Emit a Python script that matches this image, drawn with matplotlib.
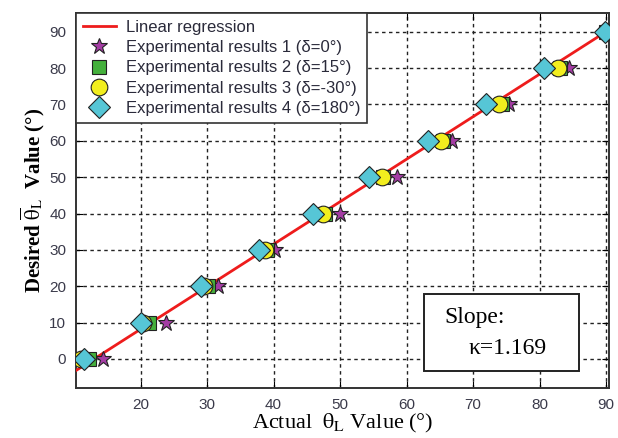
import numpy as np
import matplotlib.pyplot as plt
from matplotlib.patches import Rectangle

plt.rcParams['mathtext.fontset'] = 'stix'
plt.rcParams['font.family'] = ['Liberation Sans', 'DejaVu Sans']

desired = [0, 10, 20, 30, 40, 50, 60, 70, 80, 90]
actual_1 = [14.4, 23.9, 31.7, 40.2, 50.0, 58.6, 66.9, 75.4, 84.5, 90.0]
actual_2 = [12.3, 21.2, 30.1, 39.0, 47.7, 56.5, 65.5, 74.3, 83.0, 90.0]
actual_3 = [11.0, 20.4, 29.6, 38.7, 47.4, 56.3, 65.2, 73.9, 82.7, 90.0]
actual_4 = [11.5, 20.0, 29.1, 37.8, 45.9, 54.3, 63.2, 72.0, 80.6, 89.8]

slope = 1.169
fit_x = [10.3, 90.0]
intercept = 90.0 - slope * 90.0

fig = plt.figure(figsize=(6.18, 4.38), dpi=100)
ax = fig.add_axes([0.123, 0.114, 0.862, 0.856])

fx = np.array(fit_x)
ax.plot(fx, slope * fx + intercept, color='#ee1c1c', lw=2, label='Linear regression', zorder=3)

ax.plot(actual_1, desired, ls='none', marker='*', ms=12, mfc='#a43ca4', mec='#222222', mew=0.8,
        label='Experimental results 1 (δ=0°)', zorder=4)
ax.plot(actual_2, desired, ls='none', marker='s', ms=10, mfc='#44b03c', mec='#222222', mew=0.8,
        label='Experimental results 2 (δ=15°)', zorder=5)
ax.plot(actual_3, desired, ls='none', marker='o', ms=12, mfc='#f2ee1e', mec='#222222', mew=0.8,
        label='Experimental results 3 (δ=-30°)', zorder=6)
ax.plot(actual_4, desired, ls='none', marker='D', ms=11, mfc='#56c6d6', mec='#222222', mew=0.8,
        label='Experimental results 4 (δ=180°)', zorder=7)

ax.set_xlim(10.3, 90.4)
ax.set_ylim(-8, 95.1)
ax.set_xticks(range(20, 91, 10))
ax.set_yticks(range(0, 91, 10))
ax.grid(True, color='#222222', ls=(0, (2.5, 2.5)), lw=1.0)
ax.tick_params(direction='in', top=True, right=True, length=5, labelsize=11,
               labelcolor='#3a3a4a', pad=7)
for sp in ax.spines.values():
    sp.set_linewidth(1.4)
    sp.set_color('#333333')

ax.set_xlabel(r'Actual  $\mathrm{θ}_\mathrm{L}$ Value (°)', family='Liberation Serif', fontsize=16,
              labelpad=0)
ax.set_ylabel(r'Desired $\overline{\mathrm{θ}}_\mathrm{L}$  Value (°)', family='Liberation Serif',
              fontsize=15, fontweight='bold', labelpad=2)

leg = ax.legend(loc='upper left', fontsize=12, frameon=True, fancybox=False, framealpha=1,
                edgecolor='#333333', borderaxespad=0, handlelength=2.0, labelspacing=0.32,
                borderpad=0.4, handletextpad=0.6, labelcolor='#2a2a3a')
leg.get_frame().set_linewidth(1.2)

ax.add_patch(Rectangle((0.654, 0.045), 0.29, 0.206, transform=ax.transAxes, fc='white',
                       ec='#222222', lw=1.4, zorder=10))
ax.text(0.691, 0.187, 'Slope:', transform=ax.transAxes, family='Liberation Serif',
        fontsize=17, ha='left', va='center', zorder=11)
ax.text(0.737, 0.105, 'κ=1.169', transform=ax.transAxes, family='Liberation Serif',
        fontsize=17, ha='left', va='center', zorder=11)

fig.savefig('out.png', dpi=100)
